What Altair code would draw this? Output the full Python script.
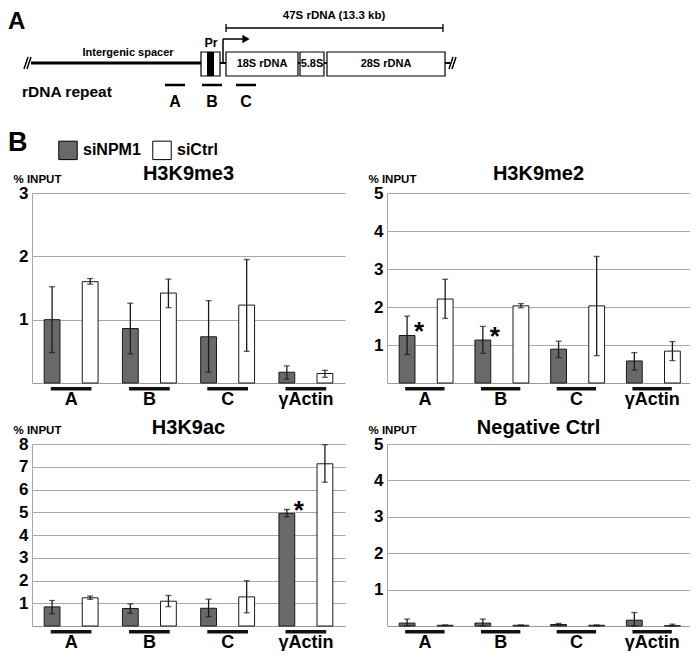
import altair as alt
import pandas as pd

FONT = "Liberation Sans"

# ---------------- data: ChIP panels ----------------
categories = ["A", "B", "C", "γActin"]
series = ["siNPM1", "siCtrl"]
series_colors = ["#696969", "#ffffff"]

titles = ["H3K9me3", "H3K9me2", "H3K9ac", "Negative Ctrl"]
y_max = [3, 5, 8, 5]
y_ticks = [[1, 2, 3], [1, 2, 3, 4, 5], [1, 2, 3, 4, 5, 6, 7, 8], [1, 2, 3, 4, 5]]

# H3K9me3
me3_npm1 = [1.00, 0.86, 0.73, 0.17]
me3_npm1_lo = [0.48, 0.46, 0.17, 0.06]
me3_npm1_hi = [1.52, 1.26, 1.30, 0.27]
me3_ctrl = [1.60, 1.42, 1.23, 0.15]
me3_ctrl_lo = [1.56, 1.19, 0.50, 0.09]
me3_ctrl_hi = [1.65, 1.64, 1.95, 0.20]

# H3K9me2
me2_npm1 = [1.25, 1.13, 0.89, 0.58]
me2_npm1_lo = [0.75, 0.78, 0.67, 0.34]
me2_npm1_hi = [1.76, 1.49, 1.10, 0.80]
me2_ctrl = [2.21, 2.03, 2.03, 0.84]
me2_ctrl_lo = [1.70, 1.98, 0.72, 0.59]
me2_ctrl_hi = [2.73, 2.09, 3.33, 1.09]

# H3K9ac
ac_npm1 = [0.84, 0.77, 0.78, 4.95]
ac_npm1_lo = [0.54, 0.56, 0.41, 4.80]
ac_npm1_hi = [1.12, 0.97, 1.18, 5.12]
ac_ctrl = [1.24, 1.09, 1.28, 7.13]
ac_ctrl_lo = [1.17, 0.85, 0.58, 6.32]
ac_ctrl_hi = [1.32, 1.34, 1.99, 7.97]

# Negative Ctrl
neg_npm1 = [0.08, 0.08, 0.04, 0.16]
neg_npm1_lo = [0.00, 0.00, 0.02, 0.00]
neg_npm1_hi = [0.19, 0.19, 0.07, 0.37]
neg_ctrl = [0.02, 0.02, 0.02, 0.01]
neg_ctrl_lo = [0.01, 0.01, 0.01, 0.00]
neg_ctrl_hi = [0.03, 0.03, 0.03, 0.05]

# significance stars (on siNPM1 bars)
me2_star_cats = ["A", "B"]
me2_star_y = [1.49, 1.38]
ac_star_cats = ["γActin"]
ac_star_y = [5.34]

# ---------------- data: schematic (panel A), in schematic units ----------------
line_x = [31, 220, 226, 226, 443, 223, 223, 24, 27, 449, 452, 165, 202, 236]
line_y = [58, 58, 23, 19, 19, 58, 34, 64, 64, 64, 64, 80, 80, 80]
line_x2 = [201, 450, 443, 226, 443, 223, 243, 28, 31, 453, 456, 185, 222, 256]
line_y2 = [58, 58, 23, 27, 27, 34, 34, 52, 52, 52, 52, 80, 80, 80]
line_w = [3, 2, 1.3, 1.3, 1.3, 1.5, 1.5, 1.5, 1.5, 1.5, 1.5, 2.5, 2.5, 2.5]

box_x = [201, 226, 300, 327]
box_x2 = [220, 298, 324, 445]
promoter_x = [207]
promoter_x2 = [214]

text_label = ["Intergenic spacer", "Pr", "18S rDNA", "5.8S", "28S rDNA", "A", "B", "C"]
text_x = [128, 211, 262, 312, 386, 175, 212, 246]
text_y = [48, 38, 59, 59, 59, 97, 97, 97]
text_size = [11, 12.5, 11, 11, 11, 16, 16, 16]

top_label = ["47S rDNA (13.3 kb)"]
top_x = [334]
top_y = [5]
top_size = [11.5]

left_label = ["A", "rDNA repeat", "B"]
left_x = [8, 22, 8]
left_y = [5, 87, 138]
left_size = [24, 15.5, 27]
left_baseline = ["top", "middle", "middle"]

arrow_x = [246]
arrow_y = [34]

# ---------------- schematic chart ----------------
HW, HH = 313, 121
hx_scale = alt.Scale(domain=[32, 32 + HW], nice=False, zero=False)
hy_scale = alt.Scale(domain=[6, 6 + HH], nice=False, zero=False, reverse=True)


def HX(f):
    return alt.X(f, type="quantitative", scale=hx_scale, axis=None)


def HY(f):
    return alt.Y(f, type="quantitative", scale=hy_scale, axis=None)


lines_df = pd.DataFrame({"x": line_x, "y": line_y, "x2": line_x2, "y2": line_y2, "w": line_w})
lines = alt.Chart(lines_df).mark_rule(color="black", strokeCap="butt").encode(
    x=HX("x"), y=HY("y"), x2=alt.X2("x2"), y2=alt.Y2("y2"),
    strokeWidth=alt.StrokeWidth("w:Q", scale=None),
)
boxes_df = pd.DataFrame({"x": box_x, "x2": box_x2, "y": [47] * 4, "y2": [71] * 4})
boxes = alt.Chart(boxes_df).mark_rect(fill="white", stroke="black", strokeWidth=1.2).encode(
    x=HX("x"), x2=alt.X2("x2"), y=HY("y"), y2=alt.Y2("y2")
)
prom_df = pd.DataFrame({"x": promoter_x, "x2": promoter_x2, "y": [47], "y2": [71]})
prom = alt.Chart(prom_df).mark_rect(fill="black").encode(
    x=HX("x"), x2=alt.X2("x2"), y=HY("y"), y2=alt.Y2("y2")
)
arrow_df = pd.DataFrame({"x": arrow_x, "y": arrow_y})
arrow = alt.Chart(arrow_df).mark_point(shape="triangle-right", filled=True, size=70, color="black", opacity=1).encode(
    x=HX("x"), y=HY("y")
)
texts_df = pd.DataFrame({"t": text_label, "x": text_x, "y": text_y, "s": text_size})
texts = alt.Chart(texts_df).mark_text(font=FONT, fontWeight="bold", color="black", align="center", baseline="middle").encode(
    x=HX("x"), y=HY("y"), text="t:N", size=alt.Size("s:Q", scale=None)
)
top_df = pd.DataFrame({"t": top_label, "x": top_x, "y": top_y, "s": top_size})
top_texts = alt.Chart(top_df).mark_text(font=FONT, fontWeight="bold", color="black", align="center", baseline="top").encode(
    x=HX("x"), y=HY("y"), text="t:N", size=alt.Size("s:Q", scale=None)
)
left_df = pd.DataFrame({"t": left_label, "x": left_x, "y": left_y, "s": left_size, "b": left_baseline})
left_top = alt.Chart(left_df[left_df["b"] == "top"]).mark_text(
    font=FONT, fontWeight="bold", color="black", align="left", baseline="top"
).encode(x=HX("x"), y=HY("y"), text="t:N", size=alt.Size("s:Q", scale=None))
left_mid = alt.Chart(left_df[left_df["b"] == "middle"]).mark_text(
    font=FONT, fontWeight="bold", color="black", align="left", baseline="middle"
).encode(x=HX("x"), y=HY("y"), text="t:N", size=alt.Size("s:Q", scale=None))
header = alt.layer(lines, boxes, prom, arrow, texts, top_texts, left_top, left_mid).properties(width=HW, height=HH)

blank = alt.Chart(pd.DataFrame({"v": [0]})).mark_point(opacity=0).encode(
    x=alt.value(0), y=alt.value(0)
).properties(width=10, height=10)

# ---------------- bar panels ----------------
fill_enc = alt.Fill(
    "series:N",
    scale=alt.Scale(domain=series, range=series_colors),
    legend=alt.Legend(
        title=None, orient="none", legendX=26, legendY=129, direction="horizontal",
        symbolType="square", symbolSize=340, symbolStrokeColor="black", symbolStrokeWidth=1,
        symbolOpacity=1, labelFontSize=16, labelFontWeight="bold", labelColor="black", labelFont=FONT,
        labelOffset=5, columnPadding=9, padding=0,
    ),
)


def make_panel(idx, npm1, npm1_lo, npm1_hi, ctrl, ctrl_lo, ctrl_hi, star_cats, star_y, width, height, toff):
    df = pd.DataFrame({
        "cat": categories * 2,
        "series": [series[0]] * 4 + [series[1]] * 4,
        "value": npm1 + ctrl,
        "lo": npm1_lo + ctrl_lo,
        "hi": npm1_hi + ctrl_hi,
    })
    x = alt.X(
        "cat:N", sort=categories,
        scale=alt.Scale(domain=categories, paddingInner=0, paddingOuter=0),
        axis=alt.Axis(title=None, labelAngle=0, labelFontSize=18, labelFontWeight="bold", labelFont=FONT,
                      labelColor="black", ticks=False, labelPadding=7, domainColor="#9a9a9a", domainWidth=1),
    )
    xo = alt.XOffset("series:N", sort=series,
                     scale=alt.Scale(domain=series, paddingInner=0.585, paddingOuter=0.32))
    y_axis = alt.Axis(
        values=y_ticks[idx], title="% INPUT", titleAngle=0, titleAlign="left", titleBaseline="alphabetic",
        titleX=-19, titleY=-11, titleFontSize=11.5, titleFont=FONT, titleFontWeight="bold", titleColor="black",
        labelFontSize=17, labelFontWeight="bold", labelFont=FONT, labelColor="black", ticks=False, labelPadding=4,
        grid=True, gridColor="#a8a8a8", gridWidth=1, domainColor="#a8a8a8", domainWidth=1,
    )
    y_scale = alt.Scale(domain=[0, y_max[idx]], nice=False, zero=True)

    def Y(f):
        return alt.Y(f, type="quantitative", scale=y_scale, axis=y_axis)

    base = alt.Chart(df)
    bars = base.mark_bar(stroke="#1a1a1a", strokeWidth=1).encode(x=x, xOffset=xo, y=Y("value"), fill=fill_enc)
    rules = base.mark_rule(color="#1a1a1a", strokeWidth=1.3).encode(x=x, xOffset=xo, y=Y("lo"), y2=alt.Y2("hi"))
    caps = base.transform_fold(["lo", "hi"], as_=["which", "endv"]).mark_tick(
        color="#1a1a1a", size=6, thickness=1.3, orient="horizontal"
    ).encode(x=x, xOffset=xo, y=Y("endv"))
    ul = alt.Chart(pd.DataFrame({"cat": categories})).mark_bar(
        color="#111111", width={"band": 0.52}
    ).encode(x=x, y=alt.value(height + 4), y2=alt.value(height + 7.5))
    layers = [bars, rules, caps, ul]
    if star_cats:
        sdf = pd.DataFrame({"cat": star_cats, "series": [series[0]] * len(star_cats), "sy": star_y})
        stars = alt.Chart(sdf).mark_text(
            text="*", font=FONT, fontSize=26, fontWeight="bold", color="black", dx=12, dy=14, baseline="alphabetic"
        ).encode(x=x, xOffset=xo, y=Y("sy"))
        layers.append(stars)
    return alt.layer(*layers).properties(
        width=width, height=height,
        title=alt.TitleParams(titles[idx], fontSize=20, fontWeight="bold", font=FONT, color="black",
                              anchor="middle", offset=toff),
    )


p1 = make_panel(0, me3_npm1, me3_npm1_lo, me3_npm1_hi, me3_ctrl, me3_ctrl_lo, me3_ctrl_hi, [], [],
                313, 190, -11)
p2 = make_panel(1, me2_npm1, me2_npm1_lo, me2_npm1_hi, me2_ctrl, me2_ctrl_lo, me2_ctrl_hi,
                me2_star_cats, me2_star_y, 303, 190, -11)
p3 = make_panel(2, ac_npm1, ac_npm1_lo, ac_npm1_hi, ac_ctrl, ac_ctrl_lo, ac_ctrl_hi,
                ac_star_cats, ac_star_y, 313, 182, -14)
p4 = make_panel(3, neg_npm1, neg_npm1_lo, neg_npm1_hi, neg_ctrl, neg_ctrl_lo, neg_ctrl_hi, [], [],
                303, 182, -14)

chart = alt.concat(
    header, blank, p1, p2, p3, p4, columns=2, spacing={"row": 61, "column": 42}, bounds="flush"
).properties(
    padding=0, background="white"
).configure(font=FONT).configure_view(stroke="transparent", strokeWidth=0)

chart.save("out.html", embed_options={"renderer": "svg", "actions": False})
